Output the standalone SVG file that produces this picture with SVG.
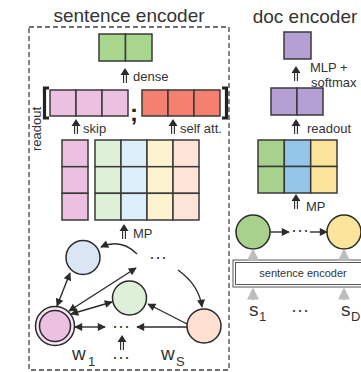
<svg xmlns="http://www.w3.org/2000/svg" width="361" height="372" viewBox="0 0 361 372">
  <defs>
    <style>
      text { font-family: "Liberation Sans", Arial, sans-serif; fill: #333; }
      .title { font-size: 19px; }
      .lbl { font-size: 13px; }
      .var { font-size: 19px; }
      .sub { font-size: 13px; }
      .dots { font-size: 18px; text-anchor: middle; }
      .cell { stroke: #3a3a3a; stroke-width: 1.5; }
      .node { stroke: #2b2b2b; stroke-width: 1.5; }
      .edge { fill: none; stroke: #2b2b2b; stroke-width: 1.4; }
      .gray { fill: none; stroke: #bdbdbd; stroke-width: 3; }
      .frame { fill: none; stroke: #444; stroke-width: 1.3; stroke-dasharray: 5 3; }
      .bracket { fill: none; stroke: #222; stroke-width: 3.2; }
    </style>
    <marker id="ah" viewBox="0 0 10 10" refX="9" refY="5" markerWidth="9" markerHeight="8"
            orient="auto-start-reverse" markerUnits="userSpaceOnUse">
      <path d="M0,0 L10,5 L0,10 Z" fill="#2b2b2b"/>
    </marker>
    <marker id="ahg" viewBox="0 0 10 10" refX="8" refY="5" markerWidth="4" markerHeight="4"
            orient="auto" markerUnits="strokeWidth">
      <path d="M0,0 L10,5 L0,10 Z" fill="#bdbdbd"/>
    </marker>
    <!-- double-shaft upward arrow -->
    <g id="up2">
      <path d="M0,0 L-4.5,7 L4.5,7 Z" fill="#2b2b2b"/>
      <path d="M-1.4,7 V15 M1.4,7 V15" stroke="#2b2b2b" stroke-width="1.1" fill="none"/>
    </g>
  </defs>

  <rect width="361" height="372" fill="#fff"/>

  <!-- sentence encoder panel -->
  <g id="sentence-encoder">
    <rect class="frame" x="29" y="27" width="200" height="343"/>
    <text class="title" x="129" y="22" text-anchor="middle">sentence encoder</text>
  </g>

  <!-- dense output -->
  <g id="dense-out">
    <rect class="cell" x="99" y="34" width="26.5" height="27" fill="#a8d68d"/>
    <rect class="cell" x="125.5" y="34" width="26.5" height="27" fill="#a8d68d"/>
  </g>

  <!-- readout concatenation -->
  <g id="readout-concat">
    <path class="bracket" d="M49,88 H44.5 V118 H49"/>
    <rect class="cell" x="50" y="90" width="26" height="26" fill="#ecc0e0"/>
    <rect class="cell" x="76" y="90" width="26" height="26" fill="#ecc0e0"/>
    <rect class="cell" x="102" y="90" width="26" height="26" fill="#ecc0e0"/>
    <text x="134" y="121" text-anchor="middle" font-size="24" font-weight="bold" style="fill:#222">;</text>
    <rect class="cell" x="142" y="90" width="26" height="26" fill="#f58070"/>
    <rect class="cell" x="168" y="90" width="26" height="26" fill="#f58070"/>
    <rect class="cell" x="194" y="90" width="26" height="26" fill="#f58070"/>
    <path class="bracket" d="M222,88 H226.5 V118 H222"/>
  </g>

  <!-- node embeddings -->
  <g id="skip-column">
    <rect class="cell" x="62" y="140" width="26" height="26.7" fill="#ecc0e0"/>
    <rect class="cell" x="62" y="166.7" width="26" height="26.6" fill="#ecc0e0"/>
    <rect class="cell" x="62" y="193.3" width="26" height="26.7" fill="#ecc0e0"/>
  </g>
  <g id="node-matrix">
    <rect class="cell" x="95" y="140" width="26" height="26.7" fill="#dff0d8"/>
    <rect class="cell" x="95" y="166.7" width="26" height="26.6" fill="#dff0d8"/>
    <rect class="cell" x="95" y="193.3" width="26" height="26.7" fill="#dff0d8"/>
    <rect class="cell" x="121" y="140" width="26" height="26.7" fill="#dbeef9"/>
    <rect class="cell" x="121" y="166.7" width="26" height="26.6" fill="#dbeef9"/>
    <rect class="cell" x="121" y="193.3" width="26" height="26.7" fill="#dbeef9"/>
    <rect class="cell" x="147" y="140" width="26" height="26.7" fill="#fdf3cf"/>
    <rect class="cell" x="147" y="166.7" width="26" height="26.6" fill="#fdf3cf"/>
    <rect class="cell" x="147" y="193.3" width="26" height="26.7" fill="#fdf3cf"/>
    <rect class="cell" x="173" y="140" width="26" height="26.7" fill="#fde4d6"/>
    <rect class="cell" x="173" y="166.7" width="26" height="26.6" fill="#fde4d6"/>
    <rect class="cell" x="173" y="193.3" width="26" height="26.7" fill="#fde4d6"/>
  </g>

  <!-- word graph nodes -->
  <g id="node-blue">
    <circle class="node" cx="83" cy="257.5" r="17" fill="#dae6f4"/>
  </g>
  <g id="node-green">
    <circle class="node" cx="129.5" cy="298" r="17" fill="#dff0d8"/>
  </g>
  <g id="node-peach">
    <circle class="node" cx="204" cy="326" r="17" fill="#fde0d2"/>
  </g>
  <g id="node-w1">
    <circle class="node" cx="55" cy="326" r="19.5" fill="#f8e4f2"/>
    <circle class="node" cx="55" cy="326" r="15.5" fill="#ecc0e0"/>
  </g>
  <g id="graph-labels">
    <text class="dots" x="158" y="263">···</text>
    <text class="dots" x="121" y="332">···</text>
    <text class="dots" x="121" y="363">···</text>
    <text class="var" x="72" y="360">w</text><text class="sub" x="88" y="366">1</text>
    <text class="var" x="161" y="360">w</text><text class="sub" x="176" y="366">S</text>
  </g>

  <!-- doc encoder panel -->
  <g id="doc-encoder">
    <text class="title" x="305" y="23" text-anchor="middle">doc encoder</text>
  </g>
  <g id="doc-output">
    <rect class="cell" x="284" y="32" width="27" height="27" fill="#b4a0d4"/>
  </g>
  <g id="doc-readout">
    <rect class="cell" x="271" y="88" width="26" height="27" fill="#b4a0d4"/>
    <rect class="cell" x="297" y="88" width="26" height="27" fill="#b4a0d4"/>
  </g>
  <g id="doc-matrix">
    <rect class="cell" x="258" y="140" width="26.3" height="26.5" fill="#a9d18e"/>
    <rect class="cell" x="258" y="166.5" width="26.3" height="26.5" fill="#a9d18e"/>
    <rect class="cell" x="284.3" y="140" width="26.4" height="26.5" fill="#93c6e7"/>
    <rect class="cell" x="284.3" y="166.5" width="26.4" height="26.5" fill="#93c6e7"/>
    <rect class="cell" x="310.7" y="140" width="26.3" height="26.5" fill="#fde49b"/>
    <rect class="cell" x="310.7" y="166.5" width="26.3" height="26.5" fill="#fde49b"/>
  </g>
  <g id="doc-node-1">
    <circle class="node" cx="253" cy="232" r="17" fill="#a9d18e"/>
  </g>
  <g id="doc-node-D">
    <circle class="node" cx="344" cy="232" r="17" fill="#fde49b"/>
  </g>
  <g id="doc-sentence-encoder">
    <rect x="233" y="260" width="140" height="27" fill="#fff" stroke="#555" stroke-width="1"/>
    <rect x="235.5" y="262.5" width="140" height="22" fill="none" stroke="#555" stroke-width="1"/>
    <text x="303" y="277" font-size="11" text-anchor="middle">sentence encoder</text>
  </g>
  <g id="doc-labels">
    <text class="dots" x="300" y="236">···</text>
    <text class="var" x="249" y="316">s</text><text class="sub" x="259" y="321">1</text>
    <text class="dots" x="300" y="316">···</text>
    <text class="var" x="341" y="316">s</text><text class="sub" x="351" y="321">D</text>
  </g>

  <!-- connectors -->
  <g id="connectors">
    <!-- sentence encoder flow -->
    <use href="#up2" x="125" y="68"/>
    <text class="lbl" x="133" y="81">dense</text>
    <use href="#up2" x="76" y="119"/>
    <text class="lbl" x="83" y="133">skip</text>
    <use href="#up2" x="173" y="119"/>
    <text class="lbl" x="180" y="133">self att.</text>
    <text class="lbl" transform="translate(40.5,129) rotate(-90)" text-anchor="middle">readout</text>
    <use href="#up2" x="124" y="224"/>
    <text class="lbl" x="133" y="238">MP</text>
    <use href="#up2" x="122" y="335"/>

    <!-- word graph edges -->
    <path class="edge" d="M137,254 Q121,238 101,247" marker-end="url(#ah)"/>
    <path class="edge" d="M178,270 Q199,285 202,307" marker-end="url(#ah)"/>
    <path class="edge" d="M70,273 L57,306" marker-start="url(#ah)" marker-end="url(#ah)"/>
    <path class="edge" d="M69,311 L136,268" marker-start="url(#ah)" marker-end="url(#ah)"/>
    <path class="edge" d="M71,314 L112,302" marker-start="url(#ah)" marker-end="url(#ah)"/>
    <path class="edge" d="M75,327 L105,327" marker-start="url(#ah)" marker-end="url(#ah)"/>
    <path class="edge" d="M187,324 L148,304" marker-end="url(#ah)"/>
    <path class="edge" d="M187,327 L137,327" marker-end="url(#ah)"/>

    <!-- doc encoder flow -->
    <use href="#up2" x="296" y="66"/>
    <text class="lbl" x="310" y="72">MLP +</text>
    <text class="lbl" x="311" y="87">softmax</text>
    <use href="#up2" x="296" y="119"/>
    <text class="lbl" x="307" y="133">readout</text>
    <use href="#up2" x="296" y="194"/>
    <text class="lbl" x="306" y="211">MP</text>
    <path class="edge" d="M270,232 L289,232" marker-end="url(#ah)"/>
    <path class="edge" d="M310,232 L327,232" marker-end="url(#ah)"/>
    <path class="gray" d="M253,260 V251" marker-end="url(#ahg)"/>
    <path class="gray" d="M344,260 V251" marker-end="url(#ahg)"/>
    <path class="gray" d="M253,300 V290" marker-end="url(#ahg)"/>
    <path class="gray" d="M344,300 V290" marker-end="url(#ahg)"/>
  </g>
</svg>
